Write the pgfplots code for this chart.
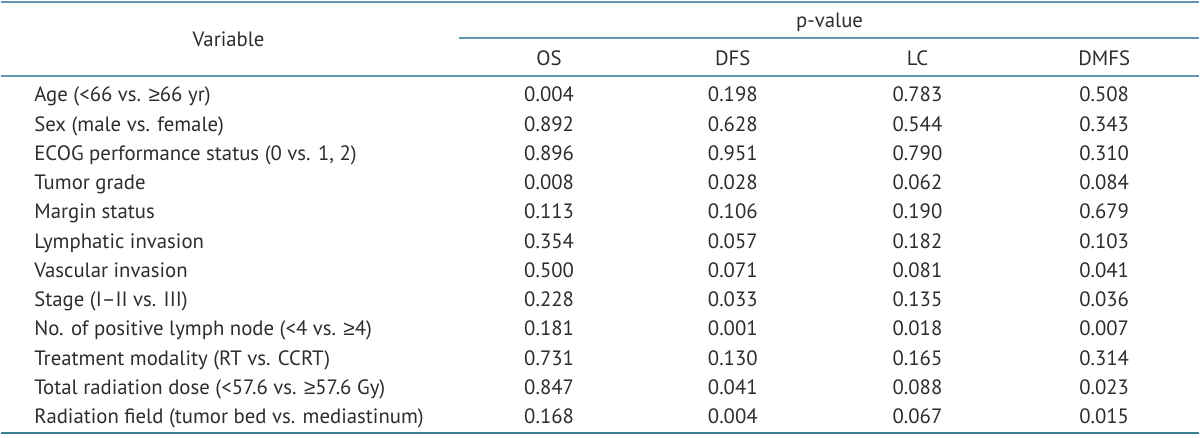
\documentclass[border=0pt]{standalone}
\usepackage{fontspec}
\setmainfont{PT Sans}
\newfontfamily\sym{Liberation Sans}
\usepackage{pgfplots}
\usepackage{pgfplotstable}
\pgfplotsset{compat=1.18}
\definecolor{rule}{RGB}{96,150,180}
\definecolor{rulebot}{RGB}{60,128,152}
\definecolor{txt}{RGB}{45,45,45}
\newcommand\tf{\fontsize{10.4}{12}\selectfont}
\newcommand\gee{{\sym ≥}}

\pgfplotstableread[col sep=&, row sep=\\]{
y & label & os & dfs & lc & dmfs\\
95.0 & Age (<66 vs. \gee66 yr) & 0.004 & 0.198 & 0.783 & 0.508\\
124.3 & Sex (male vs. female) & 0.892 & 0.628 & 0.544 & 0.343\\
153.6 & ECOG performance status (0 vs. 1, 2) & 0.896 & 0.951 & 0.790 & 0.310\\
182.9 & Tumor grade & 0.008 & 0.028 & 0.062 & 0.084\\
212.2 & Margin status & 0.113 & 0.106 & 0.190 & 0.679\\
241.5 & Lymphatic invasion & 0.354 & 0.057 & 0.182 & 0.103\\
270.8 & Vascular invasion & 0.500 & 0.071 & 0.081 & 0.041\\
300.1 & Stage (I–II vs. III) & 0.228 & 0.033 & 0.135 & 0.036\\
329.4 & No. of positive lymph node (<4 vs. \gee4) & 0.181 & 0.001 & 0.018 & 0.007\\
358.7 & Treatment modality (RT vs. CCRT) & 0.731 & 0.130 & 0.165 & 0.314\\
388.0 & Total radiation dose (<57.6 vs. \gee57.6 Gy) & 0.847 & 0.041 & 0.088 & 0.023\\
417.3 & Radiation field (tumor bed vs. mediastinum) & 0.168 & 0.004 & 0.067 & 0.015\\
}\pvals

\begin{document}
\begin{tikzpicture}
\begin{axis}[
  width=600pt, height=219pt, scale only axis,
  xmin=0, xmax=1200, ymin=0, ymax=438, y dir=reverse,
  hide axis, clip=false,
  every node near coord/.append style={font=\tf, text=txt, inner sep=0pt, text height=7pt, text depth=0pt},
]
\path (axis cs:0,0) rectangle (axis cs:1200,438);
% rules
\addplot[rule, line width=1pt] coordinates {(0,2) (1200,2)};
\addplot[rule, line width=1pt] coordinates {(459,38.5) (1200,38.5)};
\addplot[rule, line width=1pt] coordinates {(0,76) (1200,76)};
\addplot[rulebot, line width=1pt] coordinates {(0,434) (1200,434)};
% row labels
\addplot[draw=none, nodes near coords, nodes near coords align=west, point meta=explicit symbolic]
  table[x expr=33, y=y, meta=label] {\pvals};
% values
\addplot[draw=none, nodes near coords, nodes near coords align=center, point meta=explicit symbolic]
  table[x expr=549, y=y, meta=os] {\pvals};
\addplot[draw=none, nodes near coords, nodes near coords align=center, point meta=explicit symbolic]
  table[x expr=733, y=y, meta=dfs] {\pvals};
\addplot[draw=none, nodes near coords, nodes near coords align=center, point meta=explicit symbolic]
  table[x expr=918, y=y, meta=lc] {\pvals};
\addplot[draw=none, nodes near coords, nodes near coords align=center, point meta=explicit symbolic]
  table[x expr=1105, y=y, meta=dmfs] {\pvals};
% headers
\node[font=\tf, text=txt, inner sep=0pt, text height=7pt, text depth=0pt] at (axis cs:228,40) {Variable};
\node[font=\tf, text=txt, inner sep=0pt, text height=7pt, text depth=0pt] at (axis cs:830,21) {p-value};
\node[font=\tf, text=txt, inner sep=0pt, text height=7pt, text depth=0pt] at (axis cs:549,59) {OS};
\node[font=\tf, text=txt, inner sep=0pt, text height=7pt, text depth=0pt] at (axis cs:733,59) {DFS};
\node[font=\tf, text=txt, inner sep=0pt, text height=7pt, text depth=0pt] at (axis cs:918,59) {LC};
\node[font=\tf, text=txt, inner sep=0pt, text height=7pt, text depth=0pt] at (axis cs:1105,59) {DMFS};
\end{axis}
\end{tikzpicture}
\end{document}
